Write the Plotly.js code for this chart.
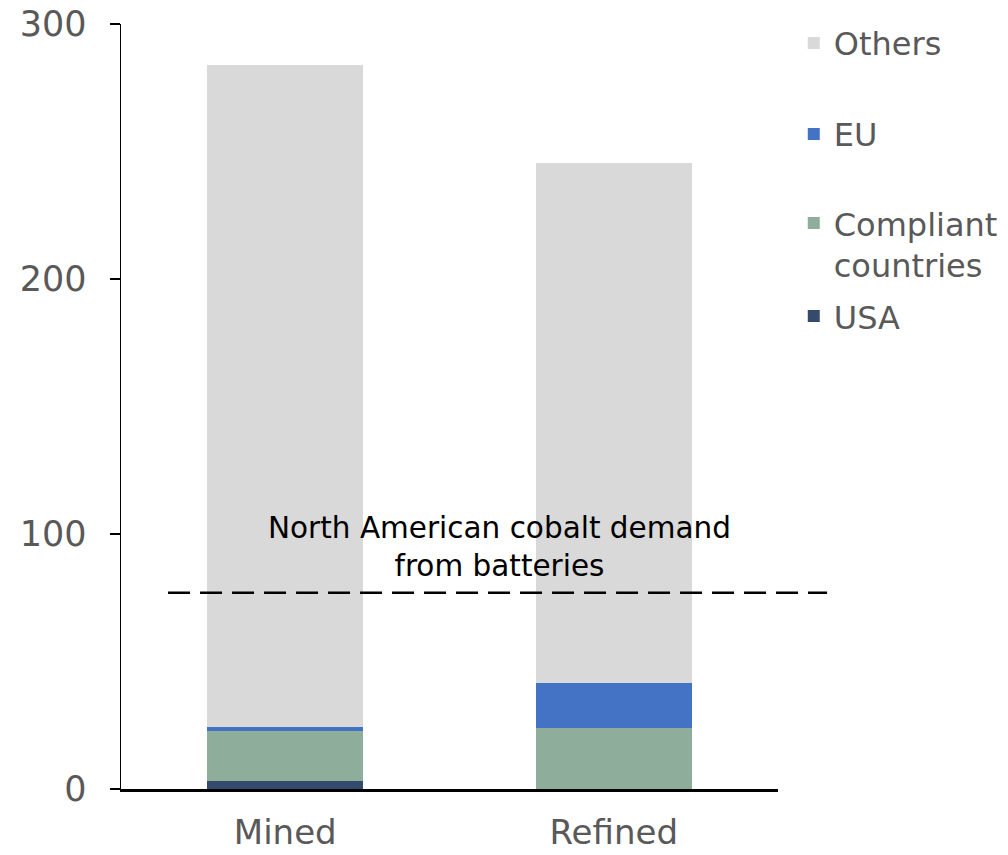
<!DOCTYPE html>
<html>
<head>
<meta charset="utf-8">
<script src="https://cdn.plot.ly/plotly-3.0.1.min.js"></script>
<style>html,body{margin:0;padding:0;background:#fff;}#chart{width:1008px;height:855px;}</style>
</head>
<body>
<div id="chart"></div>
<script>
const categories = ["Mined", "Refined"];
const usa = [3.2, 0];
const compliant = [19.4, 23.9];
const eu = [1.9, 17.6];
const others = [259.3, 204.0];
const demand = 77;
const demandLabel = "North American cobalt demand<br>from batteries";
const yTicks = [0, 100, 200, 300];

const colors = {usa: "#344B6E", compliant: "#8EAE9B", eu: "#4472C4", others: "#D9D9D9"};
const tickFont = {family: "DejaVu Sans, sans-serif", size: 35, color: "#595959"};
const xTickFont = {family: "DejaVu Sans, sans-serif", size: 34, color: "#595959"};
const legFont = {family: "DejaVu Sans, sans-serif", size: 32, color: "#595959"};

function bar(name, y, color, legend) {
  return {type: "bar", name: name, x: categories, y: y, legend: legend,
          marker: {color: color, line: {width: 0}}, hoverinfo: "skip"};
}

const data = [
  bar("USA", usa, colors.usa, "legend4"),
  bar("Compliant<br>countries", compliant, colors.compliant, "legend3"),
  bar("EU", eu, colors.eu, "legend2"),
  bar("Others", others, colors.others, "legend")
];

function leg(y, valign) {
  return {x: 1.024, xanchor: "left", y: y, yanchor: "middle", font: legFont,
          bgcolor: "rgba(0,0,0,0)", itemwidth: 30, valign: valign || "middle",
          tracegroupgap: 0, itemclick: false, itemdoubleclick: false};
}

const layout = {
  width: 1008, height: 855,
  margin: {l: 121, r: 230, t: 24, b: 66, pad: 0, autoexpand: false},
  paper_bgcolor: "#fff", plot_bgcolor: "#fff",
  barmode: "stack", bargap: 0.524,
  showlegend: true,
  legend: leg(0.975),
  legend2: leg(0.856),
  legend3: leg(0.712, "top"),
  legend4: leg(0.618),
  xaxis: {type: "category", showline: true, linecolor: "#000", linewidth: 2.5,
          ticks: "", tickfont: xTickFont, showgrid: false, zeroline: false,
          fixedrange: true, ticklabelstandoff: 12},
  yaxis: {range: [0, 300], tickvals: yTicks, showline: true, linecolor: "#000",
          linewidth: 1.5, ticks: "outside", ticklen: 10, tickwidth: 1.5, tickcolor: "#000",
          tickfont: tickFont, showgrid: false, zeroline: false, fixedrange: true,
          ticklabelstandoff: 16},
  shapes: [{type: "line", xref: "paper", yref: "y", x0: 0.0716, x1: 1.0747,
            y0: demand, y1: demand, line: {color: "#000", width: 2.5, dash: "22px,10px"}}],
  annotations: [{xref: "paper", yref: "y", x: 0.576, y: demand, yanchor: "bottom",
                 xanchor: "center", yshift: 8, showarrow: false, text: demandLabel,
                 font: {family: "DejaVu Sans, sans-serif", size: 29.5, color: "#000"}}]
};

Plotly.newPlot("chart", data, layout, {displayModeBar: false, staticPlot: true});
</script>
</body>
</html>
